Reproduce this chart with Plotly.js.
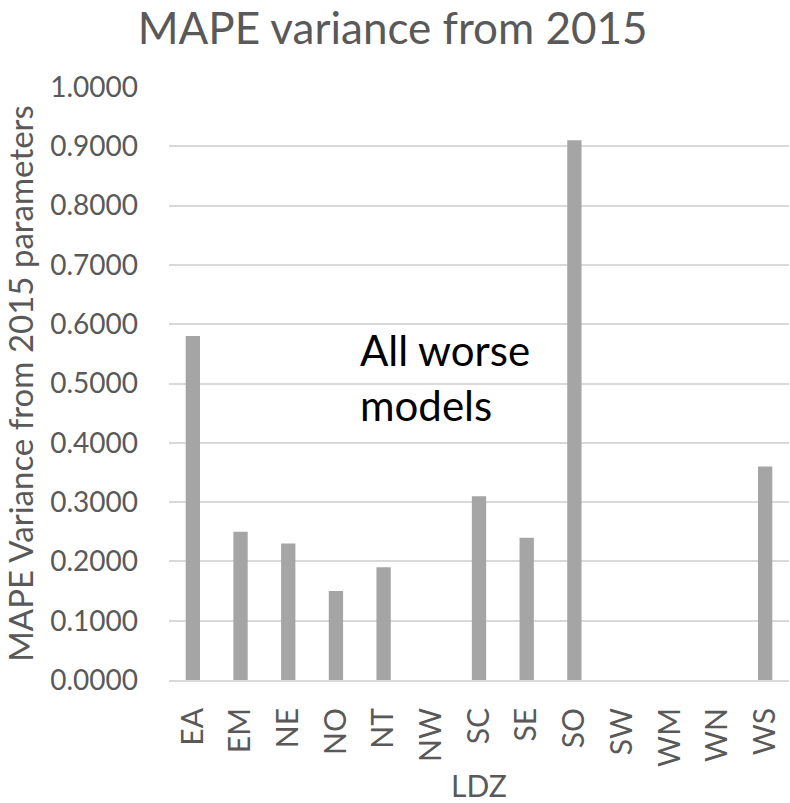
<!DOCTYPE html>
<html>
<head>
<meta charset="utf-8">
<script src="https://cdn.plot.ly/plotly-3.0.1.min.js"></script>
<style>html,body{margin:0;padding:0;background:#fff;}#chart{width:790px;height:803px;}</style>
</head>
<body>
<div id="chart"></div>
<script>
const categories = ["EA","EM","NE","NO","NT","NW","SC","SE","SO","SW","WM","WN","WS"];
const values = [0.58,0.25,0.23,0.15,0.19,0,0.31,0.24,0.91,0,0,0,0.36];
const yTicks = [0,0.1,0.2,0.3,0.4,0.5,0.6,0.7,0.8,0.9,1.0];
const annotationText = "All worse<br>models";

const FONT = "Lato, 'Open Sans', sans-serif";
const GREY = "#595959";

const trace = {
  type: "bar",
  x: categories,
  y: values,
  width: 0.3,
  marker: {color: "#a5a5a5"},
  hoverinfo: "x+y"
};

const layout = {
  width: 790, height: 803,
  margin: {l: 169, r: 1, t: 87, b: 123},
  paper_bgcolor: "#fff", plot_bgcolor: "#fff",
  showlegend: false,
  title: {text: "MAPE variance from 2015", x: 0.497, xref: "container", xanchor: "center", y: 0.965, yanchor: "middle",
          font: {family: FONT, size: 44, color: GREY}},
  xaxis: {
    type: "category",
    tickangle: -90,
    tickfont: {family: FONT, size: 30, color: GREY},
    showgrid: false,
    showline: true, linecolor: "#d9d9d9", linewidth: 2,
    ticks: "", ticklabelstandoff: 14,
    title: {text: "LDZ", font: {family: FONT, size: 30, color: GREY}, standoff: 14}
  },
  yaxis: {
    range: [0, 1.0],
    tickvals: yTicks,
    tickformat: ".4f",
    tickfont: {family: FONT, size: 28, color: GREY},
    showgrid: true, gridcolor: "#d9d9d9", gridwidth: 2,
    zeroline: false,
    ticks: "", ticklabelstandoff: 30,
    title: {text: "MAPE Variance from 2015 parameters", font: {family: FONT, size: 33, color: GREY}, standoff: 10}
  },
  annotations: [{
    text: annotationText, xref: "paper", yref: "paper", x: 0.305, y: 0.51,
    xanchor: "left", yanchor: "middle", align: "left", showarrow: false,
    font: {family: FONT, size: 42, color: "#000"}
  }]
};

Plotly.newPlot("chart", [trace], layout, {displayModeBar: false, staticPlot: true});
</script>
</body>
</html>
